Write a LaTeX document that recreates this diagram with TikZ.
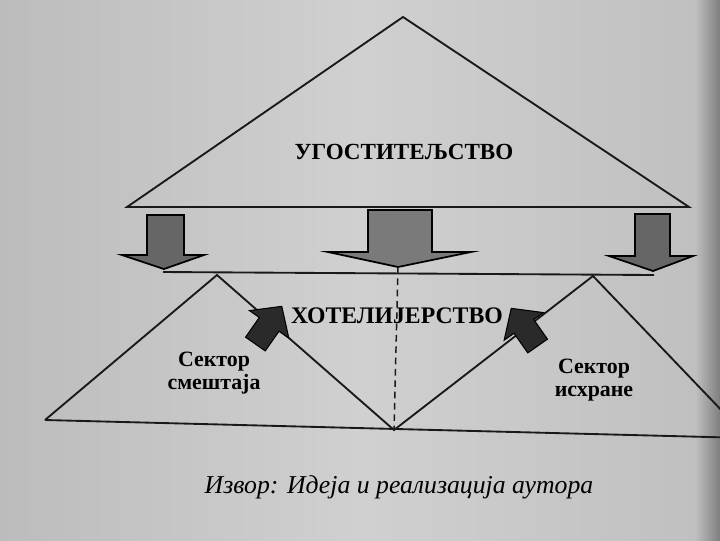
\documentclass[tikz,border=0pt]{standalone}
\usepackage{fontspec}
\setmainfont{Liberation Serif}
\newfontfamily\capfont[Script=Cyrillic,Language=Serbian]{Liberation Serif}
\definecolor{bgL}{HTML}{BCBCBC}
\definecolor{bgM}{HTML}{D0D0D0}
\definecolor{bgR}{HTML}{C0C0C0}
\definecolor{bgE}{HTML}{7E7E7E}
\definecolor{arrA}{HTML}{666666}
\definecolor{arrB}{HTML}{7A7A7A}
\definecolor{arrS}{HTML}{2A2A2A}
\begin{document}
\begin{tikzpicture}[x=0.75pt,y=-0.75pt,line join=miter]
\tikzset{
  edge/.style={line width=1.4pt, draw=black!90},
  bigarrow/.style={draw=black, line width=1.3pt, fill=#1},
  smallarrow/.style={draw=black, line width=0.8pt, fill=arrS},
  dashline/.style={line width=1.1pt, draw=black!90, dash pattern=on 5pt off 3.5pt},
  bigtext/.style={font=\bfseries\fontsize{#1}{20}\selectfont, inner sep=0pt},
  sectext/.style={font=\bfseries\fontsize{16.4}{17.5}\selectfont, align=center, inner sep=0pt},
  captext/.style={font=\capfont\itshape\fontsize{19.3}{21}\selectfont, inner sep=0pt}
}
\useasboundingbox (0,0) rectangle (720,540);
\shade[left color=bgL, right color=bgM] (0,0) rectangle (360,540);
\shade[left color=bgM, right color=bgR] (360,0) rectangle (695,540);
\shade[left color=bgR, right color=bgE] (695,0) rectangle (720,540);

% top triangle
\coordinate (tA) at (403,17);
\coordinate (tL) at (127,207);
\coordinate (tR) at (689,207);
\draw[edge] (tL) -- (tA) -- (tR) -- cycle;

% band lower line
\coordinate (bL) at (163,272);
\coordinate (bR) at (654,275);
\draw[edge] (bL) -- (bR);

% big down arrows
\draw[bigarrow=arrA] (147,215) -- (184,215) -- (184,255) -- (204,255) -- (164,269) -- (122,255) -- (147,255) -- cycle;
\draw[bigarrow=arrB] (368,210) -- (432,210) -- (432,252) -- (471,252) -- (398,267) -- (328,252) -- (368,252) -- cycle;
\draw[bigarrow=arrA] (635,214) -- (670,214) -- (670,256) -- (693,256) -- (653,271) -- (609,256) -- (635,256) -- cycle;
\coordinate (mT) at (398,267);

% lower structure
\coordinate (lB) at (45,420);
\coordinate (lA) at (217,275);
\coordinate (V) at (394,430);
\coordinate (rA) at (593,276);
\coordinate (rB) at (748,438);
\begin{scope}
\clip (0,0) rectangle (720,540);
\draw[edge] (lB) -- (lA) -- (V) -- (rA) -- (rB);
\draw[edge] (lB) -- (rB);
\end{scope}
\draw[dashline] (mT) -- (V);

% small arrows
\begin{scope}[shift={(268,326)}, rotate=55]
\draw[smallarrow] (-22,-12) -- (2,-12) -- (2,-24) -- (24,0) -- (2,24) -- (2,12) -- (-22,12) -- cycle;
\end{scope}
\begin{scope}[shift={(525,328)}, rotate=125]
\draw[smallarrow] (-22,-12) -- (2,-12) -- (2,-24) -- (24,0) -- (2,24) -- (2,12) -- (-22,12) -- cycle;
\end{scope}

% texts
\node[bigtext=17.3] (ugo) at (404,152) {УГОСТИТЕЉСТВО};
\node[bigtext=17.8] (hot) at (397,316) {ХОТЕЛИЈЕРСТВО};
\node[sectext] (sm) at (214,373) {Сектор\\смештаја};
\node[sectext] (ih) at (594,380) {Сектор\\исхране};
\node[captext] (cap) at (399,487) {Извор: Идеја и реализација аутора};
\end{tikzpicture}
\end{document}
